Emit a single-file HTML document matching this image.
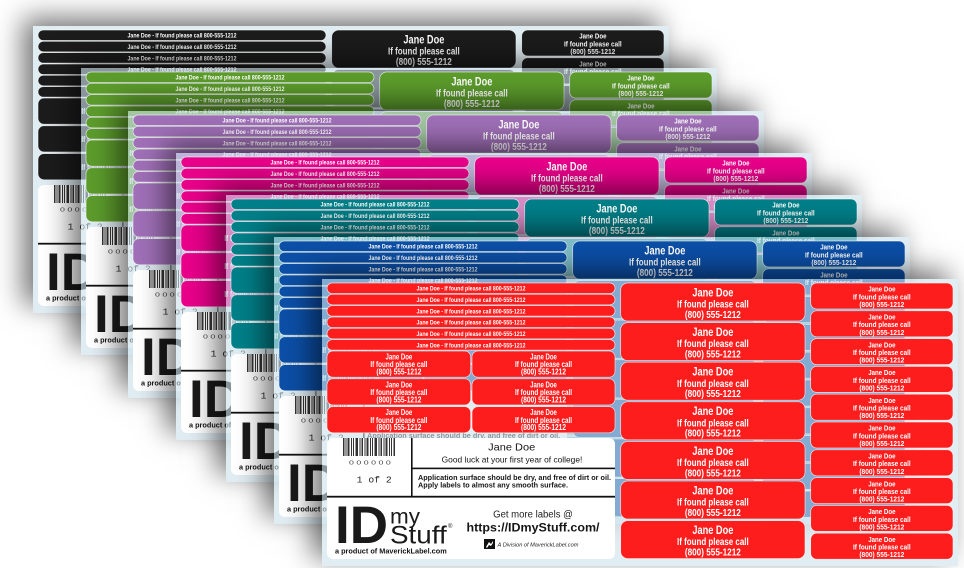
<!DOCTYPE html>
<html><head><meta charset="utf-8">
<style>
html,body{margin:0;padding:0;background:#fff}
body{width:964px;height:568px;overflow:hidden;position:relative}
.sh{position:absolute;width:636px;height:287px;background:rgba(205,226,235,.62);box-shadow:-10px -8px 26px rgba(0,0,0,.55)}
.sh svg{display:block;overflow:visible}
.l{stroke:rgba(255,255,255,.75);stroke-width:.7}
.s0 .l{fill:#1c1c1c}.s1 .l{fill:#5c9c2c}.s2 .l{fill:#a070b8}.s3 .l{fill:#e9008a}.s4 .l{fill:#008089}.s5 .l{fill:#0c4fa7}.s6 .l{fill:#fd1d1d}
text{font-family:"Liberation Sans Narrow","Liberation Sans",sans-serif;font-weight:bold;fill:#fff;text-anchor:middle}
.a{font-size:6.5px}.m{font-size:8px}.L1{font-size:11.5px}.L2{font-size:10px}.k{font-size:7.5px}
.p{fill:#151515;font-family:"Liberation Sans",sans-serif}
.st{text-anchor:start}
.n{font-weight:normal}
.dg{font-size:5.5px;font-weight:normal;fill:#444}
.of{font-family:"Liberation Mono",monospace;font-size:9.5px;font-weight:normal;fill:#222}
.id{font-size:53px;fill:#1a1a1a}
.pr{font-size:7.5px}
</style></head><body>

<!-- sheet 0 black -->
<div class="sh s0" style="left:33px;top:26px"><svg width="636" height="287">
<rect class="l" x="5" y="4" width="288" height="10.5" rx="5.2"/><rect class="l" x="5" y="15.33" width="288" height="10.5" rx="5.2"/><rect class="l" x="5" y="26.66" width="288" height="10.5" rx="5.2"/><rect class="l" x="5" y="38" width="288" height="10.5" rx="5.2"/><rect class="l" x="5" y="49.33" width="288" height="10.5" rx="5.2"/><rect class="l" x="5" y="60.66" width="288" height="10.5" rx="5.2"/>
<rect class="l" x="5" y="72" width="143.7" height="26.2" rx="6"/><rect class="l" x="150" y="72" width="143" height="26.2" rx="6"/><rect class="l" x="5" y="99.8" width="143.7" height="26.2" rx="6"/><rect class="l" x="150" y="99.8" width="143" height="26.2" rx="6"/><rect class="l" x="5" y="127.6" width="143.7" height="26.2" rx="6"/><rect class="l" x="150" y="127.6" width="143" height="26.2" rx="6"/>
<rect class="l" x="298.7" y="4" width="184.3" height="38" rx="7"/><rect class="l" x="298.7" y="43.6" width="184.3" height="38" rx="7"/><rect class="l" x="298.7" y="83.2" width="184.3" height="38" rx="7"/><rect class="l" x="298.7" y="122.8" width="184.3" height="38" rx="7"/><rect class="l" x="298.7" y="162.4" width="184.3" height="38" rx="7"/><rect class="l" x="298.7" y="202" width="184.3" height="38" rx="7"/><rect class="l" x="298.7" y="241.6" width="184.3" height="38" rx="7"/>
<rect class="l" x="488.7" y="4" width="142.3" height="26" rx="6"/><rect class="l" x="488.7" y="31.8" width="142.3" height="26" rx="6"/><rect class="l" x="488.7" y="59.6" width="142.3" height="26" rx="6"/><rect class="l" x="488.7" y="87.4" width="142.3" height="26" rx="6"/><rect class="l" x="488.7" y="115.2" width="142.3" height="26" rx="6"/><rect class="l" x="488.7" y="143" width="142.3" height="26" rx="6"/><rect class="l" x="488.7" y="170.8" width="142.3" height="26" rx="6"/><rect class="l" x="488.7" y="198.6" width="142.3" height="26" rx="6"/><rect class="l" x="488.7" y="226.4" width="142.3" height="26" rx="6"/><rect class="l" x="488.7" y="254.2" width="142.3" height="26" rx="6"/>
<text class="a" x="149" y="11.6" textLength="109" lengthAdjust="spacingAndGlyphs">Jane Doe - If found please call 800-555-1212</text><text class="a" x="149" y="22.93" textLength="109" lengthAdjust="spacingAndGlyphs">Jane Doe - If found please call 800-555-1212</text><text class="a" x="149" y="34.26" textLength="109" lengthAdjust="spacingAndGlyphs">Jane Doe - If found please call 800-555-1212</text><text class="a" x="149" y="45.6" textLength="109" lengthAdjust="spacingAndGlyphs">Jane Doe - If found please call 800-555-1212</text>
<text class="m" x="76.9" y="88.2" textLength="57" lengthAdjust="spacingAndGlyphs">If found please call</text><text class="m" x="76.9" y="116" textLength="57" lengthAdjust="spacingAndGlyphs">If found please call</text><text class="m" x="76.9" y="143.8" textLength="57" lengthAdjust="spacingAndGlyphs">If found please call</text>
<text class="L1" x="390.85" y="17.4" textLength="41" lengthAdjust="spacingAndGlyphs">Jane Doe</text><text class="L2" x="390.85" y="28.6" textLength="71.7" lengthAdjust="spacingAndGlyphs">If found please call</text><text class="L2" x="390.85" y="38.9" textLength="56" lengthAdjust="spacingAndGlyphs">(800) 555-1212</text>
<text class="L1" x="390.85" y="57" textLength="41" lengthAdjust="spacingAndGlyphs">Jane Doe</text><text class="L2" x="390.85" y="68.2" textLength="71.7" lengthAdjust="spacingAndGlyphs">If found please call</text><text class="L2" x="390.85" y="78.5" textLength="56" lengthAdjust="spacingAndGlyphs">(800) 555-1212</text>
<text class="k" x="559.85" y="12.7" textLength="27.3" lengthAdjust="spacingAndGlyphs">Jane Doe</text><text class="k" x="559.85" y="20.4" textLength="57.7" lengthAdjust="spacingAndGlyphs">If found please call</text><text class="k" x="559.85" y="28" textLength="45" lengthAdjust="spacingAndGlyphs">(800) 555-1212</text>
<text class="k" x="559.85" y="40.5" textLength="27.3" lengthAdjust="spacingAndGlyphs">Jane Doe</text><text class="k" x="559.85" y="48.2" textLength="57.7" lengthAdjust="spacingAndGlyphs">If found please call</text><text class="k" x="559.85" y="55.8" textLength="45" lengthAdjust="spacingAndGlyphs">(800) 555-1212</text>
<rect x="5" y="159" width="288" height="121" rx="6" fill="#fff"/>
<line x1="21" y1="168" x2="73" y2="168" stroke="#333" stroke-width="18" stroke-dasharray="1.5 1 1 1 2 1.5 1 1 1 1.5 2.5 1.5 1 1 1.5 1.5 1 1 2 1.5 1 1 1 1.5 2.5 1.5 1 1 1.5 1.5 1 1 2 1.5 1 1 1 1.5 1.5"/>
<text class="dg" x="47.9" y="185.7" textLength="41.7" lengthAdjust="spacingAndGlyphs">0 0 0 0 0 0</text>
<text class="of" x="52.2" y="203.7" textLength="35" lengthAdjust="spacingAndGlyphs">1 of 2</text>
<rect x="89" y="159" width="1.6" height="58.6" fill="#111"/><rect x="5" y="216.8" width="288" height="1.8" fill="#111"/>
<text class="p id st" x="13" y="264" textLength="53" lengthAdjust="spacingAndGlyphs">ID</text>
<text class="p pr st" x="13" y="274.3" textLength="111.7" lengthAdjust="spacingAndGlyphs">a product of MaverickLabel.com</text>
</svg></div>

<!-- sheet 1 green -->
<div class="sh s1" style="left:81px;top:68px"><svg width="636" height="287">
<rect class="l" x="5" y="4" width="288" height="10.5" rx="5.2"/><rect class="l" x="5" y="15.33" width="288" height="10.5" rx="5.2"/><rect class="l" x="5" y="26.66" width="288" height="10.5" rx="5.2"/><rect class="l" x="5" y="38" width="288" height="10.5" rx="5.2"/><rect class="l" x="5" y="49.33" width="288" height="10.5" rx="5.2"/><rect class="l" x="5" y="60.66" width="288" height="10.5" rx="5.2"/>
<rect class="l" x="5" y="72" width="143.7" height="26.2" rx="6"/><rect class="l" x="150" y="72" width="143" height="26.2" rx="6"/><rect class="l" x="5" y="99.8" width="143.7" height="26.2" rx="6"/><rect class="l" x="150" y="99.8" width="143" height="26.2" rx="6"/><rect class="l" x="5" y="127.6" width="143.7" height="26.2" rx="6"/><rect class="l" x="150" y="127.6" width="143" height="26.2" rx="6"/>
<rect class="l" x="298.7" y="4" width="184.3" height="38" rx="7"/><rect class="l" x="298.7" y="43.6" width="184.3" height="38" rx="7"/><rect class="l" x="298.7" y="83.2" width="184.3" height="38" rx="7"/><rect class="l" x="298.7" y="122.8" width="184.3" height="38" rx="7"/><rect class="l" x="298.7" y="162.4" width="184.3" height="38" rx="7"/><rect class="l" x="298.7" y="202" width="184.3" height="38" rx="7"/><rect class="l" x="298.7" y="241.6" width="184.3" height="38" rx="7"/>
<rect class="l" x="488.7" y="4" width="142.3" height="26" rx="6"/><rect class="l" x="488.7" y="31.8" width="142.3" height="26" rx="6"/><rect class="l" x="488.7" y="59.6" width="142.3" height="26" rx="6"/><rect class="l" x="488.7" y="87.4" width="142.3" height="26" rx="6"/><rect class="l" x="488.7" y="115.2" width="142.3" height="26" rx="6"/><rect class="l" x="488.7" y="143" width="142.3" height="26" rx="6"/><rect class="l" x="488.7" y="170.8" width="142.3" height="26" rx="6"/><rect class="l" x="488.7" y="198.6" width="142.3" height="26" rx="6"/><rect class="l" x="488.7" y="226.4" width="142.3" height="26" rx="6"/><rect class="l" x="488.7" y="254.2" width="142.3" height="26" rx="6"/>
<text class="a" x="149" y="11.6" textLength="109" lengthAdjust="spacingAndGlyphs">Jane Doe - If found please call 800-555-1212</text><text class="a" x="149" y="22.93" textLength="109" lengthAdjust="spacingAndGlyphs">Jane Doe - If found please call 800-555-1212</text><text class="a" x="149" y="34.26" textLength="109" lengthAdjust="spacingAndGlyphs">Jane Doe - If found please call 800-555-1212</text><text class="a" x="149" y="45.6" textLength="109" lengthAdjust="spacingAndGlyphs">Jane Doe - If found please call 800-555-1212</text>
<text class="m" x="76.9" y="88.2" textLength="57" lengthAdjust="spacingAndGlyphs">If found please call</text><text class="m" x="76.9" y="116" textLength="57" lengthAdjust="spacingAndGlyphs">If found please call</text><text class="m" x="76.9" y="143.8" textLength="57" lengthAdjust="spacingAndGlyphs">If found please call</text>
<text class="L1" x="390.85" y="17.4" textLength="41" lengthAdjust="spacingAndGlyphs">Jane Doe</text><text class="L2" x="390.85" y="28.6" textLength="71.7" lengthAdjust="spacingAndGlyphs">If found please call</text><text class="L2" x="390.85" y="38.9" textLength="56" lengthAdjust="spacingAndGlyphs">(800) 555-1212</text>
<text class="L1" x="390.85" y="57" textLength="41" lengthAdjust="spacingAndGlyphs">Jane Doe</text><text class="L2" x="390.85" y="68.2" textLength="71.7" lengthAdjust="spacingAndGlyphs">If found please call</text><text class="L2" x="390.85" y="78.5" textLength="56" lengthAdjust="spacingAndGlyphs">(800) 555-1212</text>
<text class="k" x="559.85" y="12.7" textLength="27.3" lengthAdjust="spacingAndGlyphs">Jane Doe</text><text class="k" x="559.85" y="20.4" textLength="57.7" lengthAdjust="spacingAndGlyphs">If found please call</text><text class="k" x="559.85" y="28" textLength="45" lengthAdjust="spacingAndGlyphs">(800) 555-1212</text>
<text class="k" x="559.85" y="40.5" textLength="27.3" lengthAdjust="spacingAndGlyphs">Jane Doe</text><text class="k" x="559.85" y="48.2" textLength="57.7" lengthAdjust="spacingAndGlyphs">If found please call</text><text class="k" x="559.85" y="55.8" textLength="45" lengthAdjust="spacingAndGlyphs">(800) 555-1212</text>
<rect x="5" y="159" width="288" height="121" rx="6" fill="#fff"/>
<line x1="21" y1="168" x2="73" y2="168" stroke="#333" stroke-width="18" stroke-dasharray="1.5 1 1 1 2 1.5 1 1 1 1.5 2.5 1.5 1 1 1.5 1.5 1 1 2 1.5 1 1 1 1.5 2.5 1.5 1 1 1.5 1.5 1 1 2 1.5 1 1 1 1.5 1.5"/>
<text class="dg" x="47.9" y="185.7" textLength="41.7" lengthAdjust="spacingAndGlyphs">0 0 0 0 0 0</text>
<text class="of" x="52.2" y="203.7" textLength="35" lengthAdjust="spacingAndGlyphs">1 of 2</text>
<rect x="89" y="159" width="1.6" height="58.6" fill="#111"/><rect x="5" y="216.8" width="288" height="1.8" fill="#111"/>
<text class="p id st" x="13" y="264" textLength="53" lengthAdjust="spacingAndGlyphs">ID</text>
<text class="p pr st" x="13" y="274.3" textLength="111.7" lengthAdjust="spacingAndGlyphs">a product of MaverickLabel.com</text>
</svg></div>

<!-- sheet 2 purple -->
<div class="sh s2" style="left:127.5px;top:111px"><svg width="636" height="287">
<rect class="l" x="5" y="4" width="288" height="10.5" rx="5.2"/><rect class="l" x="5" y="15.33" width="288" height="10.5" rx="5.2"/><rect class="l" x="5" y="26.66" width="288" height="10.5" rx="5.2"/><rect class="l" x="5" y="38" width="288" height="10.5" rx="5.2"/><rect class="l" x="5" y="49.33" width="288" height="10.5" rx="5.2"/><rect class="l" x="5" y="60.66" width="288" height="10.5" rx="5.2"/>
<rect class="l" x="5" y="72" width="143.7" height="26.2" rx="6"/><rect class="l" x="150" y="72" width="143" height="26.2" rx="6"/><rect class="l" x="5" y="99.8" width="143.7" height="26.2" rx="6"/><rect class="l" x="150" y="99.8" width="143" height="26.2" rx="6"/><rect class="l" x="5" y="127.6" width="143.7" height="26.2" rx="6"/><rect class="l" x="150" y="127.6" width="143" height="26.2" rx="6"/>
<rect class="l" x="298.7" y="4" width="184.3" height="38" rx="7"/><rect class="l" x="298.7" y="43.6" width="184.3" height="38" rx="7"/><rect class="l" x="298.7" y="83.2" width="184.3" height="38" rx="7"/><rect class="l" x="298.7" y="122.8" width="184.3" height="38" rx="7"/><rect class="l" x="298.7" y="162.4" width="184.3" height="38" rx="7"/><rect class="l" x="298.7" y="202" width="184.3" height="38" rx="7"/><rect class="l" x="298.7" y="241.6" width="184.3" height="38" rx="7"/>
<rect class="l" x="488.7" y="4" width="142.3" height="26" rx="6"/><rect class="l" x="488.7" y="31.8" width="142.3" height="26" rx="6"/><rect class="l" x="488.7" y="59.6" width="142.3" height="26" rx="6"/><rect class="l" x="488.7" y="87.4" width="142.3" height="26" rx="6"/><rect class="l" x="488.7" y="115.2" width="142.3" height="26" rx="6"/><rect class="l" x="488.7" y="143" width="142.3" height="26" rx="6"/><rect class="l" x="488.7" y="170.8" width="142.3" height="26" rx="6"/><rect class="l" x="488.7" y="198.6" width="142.3" height="26" rx="6"/><rect class="l" x="488.7" y="226.4" width="142.3" height="26" rx="6"/><rect class="l" x="488.7" y="254.2" width="142.3" height="26" rx="6"/>
<text class="a" x="149" y="11.6" textLength="109" lengthAdjust="spacingAndGlyphs">Jane Doe - If found please call 800-555-1212</text><text class="a" x="149" y="22.93" textLength="109" lengthAdjust="spacingAndGlyphs">Jane Doe - If found please call 800-555-1212</text><text class="a" x="149" y="34.26" textLength="109" lengthAdjust="spacingAndGlyphs">Jane Doe - If found please call 800-555-1212</text><text class="a" x="149" y="45.6" textLength="109" lengthAdjust="spacingAndGlyphs">Jane Doe - If found please call 800-555-1212</text>
<text class="m" x="76.9" y="88.2" textLength="57" lengthAdjust="spacingAndGlyphs">If found please call</text><text class="m" x="76.9" y="116" textLength="57" lengthAdjust="spacingAndGlyphs">If found please call</text><text class="m" x="76.9" y="143.8" textLength="57" lengthAdjust="spacingAndGlyphs">If found please call</text>
<text class="L1" x="390.85" y="17.4" textLength="41" lengthAdjust="spacingAndGlyphs">Jane Doe</text><text class="L2" x="390.85" y="28.6" textLength="71.7" lengthAdjust="spacingAndGlyphs">If found please call</text><text class="L2" x="390.85" y="38.9" textLength="56" lengthAdjust="spacingAndGlyphs">(800) 555-1212</text>
<text class="L1" x="390.85" y="57" textLength="41" lengthAdjust="spacingAndGlyphs">Jane Doe</text><text class="L2" x="390.85" y="68.2" textLength="71.7" lengthAdjust="spacingAndGlyphs">If found please call</text><text class="L2" x="390.85" y="78.5" textLength="56" lengthAdjust="spacingAndGlyphs">(800) 555-1212</text>
<text class="k" x="559.85" y="12.7" textLength="27.3" lengthAdjust="spacingAndGlyphs">Jane Doe</text><text class="k" x="559.85" y="20.4" textLength="57.7" lengthAdjust="spacingAndGlyphs">If found please call</text><text class="k" x="559.85" y="28" textLength="45" lengthAdjust="spacingAndGlyphs">(800) 555-1212</text>
<text class="k" x="559.85" y="40.5" textLength="27.3" lengthAdjust="spacingAndGlyphs">Jane Doe</text><text class="k" x="559.85" y="48.2" textLength="57.7" lengthAdjust="spacingAndGlyphs">If found please call</text><text class="k" x="559.85" y="55.8" textLength="45" lengthAdjust="spacingAndGlyphs">(800) 555-1212</text>
<rect x="5" y="159" width="288" height="121" rx="6" fill="#fff"/>
<line x1="21" y1="168" x2="73" y2="168" stroke="#333" stroke-width="18" stroke-dasharray="1.5 1 1 1 2 1.5 1 1 1 1.5 2.5 1.5 1 1 1.5 1.5 1 1 2 1.5 1 1 1 1.5 2.5 1.5 1 1 1.5 1.5 1 1 2 1.5 1 1 1 1.5 1.5"/>
<text class="dg" x="47.9" y="185.7" textLength="41.7" lengthAdjust="spacingAndGlyphs">0 0 0 0 0 0</text>
<text class="of" x="52.2" y="203.7" textLength="35" lengthAdjust="spacingAndGlyphs">1 of 2</text>
<rect x="89" y="159" width="1.6" height="58.6" fill="#111"/><rect x="5" y="216.8" width="288" height="1.8" fill="#111"/>
<text class="p id st" x="13" y="264" textLength="53" lengthAdjust="spacingAndGlyphs">ID</text>
<text class="p pr st" x="13" y="274.3" textLength="111.7" lengthAdjust="spacingAndGlyphs">a product of MaverickLabel.com</text>
</svg></div>

<!-- sheet 3 pink -->
<div class="sh s3" style="left:176px;top:152.5px"><svg width="636" height="287">
<rect class="l" x="5" y="4" width="288" height="10.5" rx="5.2"/><rect class="l" x="5" y="15.33" width="288" height="10.5" rx="5.2"/><rect class="l" x="5" y="26.66" width="288" height="10.5" rx="5.2"/><rect class="l" x="5" y="38" width="288" height="10.5" rx="5.2"/><rect class="l" x="5" y="49.33" width="288" height="10.5" rx="5.2"/><rect class="l" x="5" y="60.66" width="288" height="10.5" rx="5.2"/>
<rect class="l" x="5" y="72" width="143.7" height="26.2" rx="6"/><rect class="l" x="150" y="72" width="143" height="26.2" rx="6"/><rect class="l" x="5" y="99.8" width="143.7" height="26.2" rx="6"/><rect class="l" x="150" y="99.8" width="143" height="26.2" rx="6"/><rect class="l" x="5" y="127.6" width="143.7" height="26.2" rx="6"/><rect class="l" x="150" y="127.6" width="143" height="26.2" rx="6"/>
<rect class="l" x="298.7" y="4" width="184.3" height="38" rx="7"/><rect class="l" x="298.7" y="43.6" width="184.3" height="38" rx="7"/><rect class="l" x="298.7" y="83.2" width="184.3" height="38" rx="7"/><rect class="l" x="298.7" y="122.8" width="184.3" height="38" rx="7"/><rect class="l" x="298.7" y="162.4" width="184.3" height="38" rx="7"/><rect class="l" x="298.7" y="202" width="184.3" height="38" rx="7"/><rect class="l" x="298.7" y="241.6" width="184.3" height="38" rx="7"/>
<rect class="l" x="488.7" y="4" width="142.3" height="26" rx="6"/><rect class="l" x="488.7" y="31.8" width="142.3" height="26" rx="6"/><rect class="l" x="488.7" y="59.6" width="142.3" height="26" rx="6"/><rect class="l" x="488.7" y="87.4" width="142.3" height="26" rx="6"/><rect class="l" x="488.7" y="115.2" width="142.3" height="26" rx="6"/><rect class="l" x="488.7" y="143" width="142.3" height="26" rx="6"/><rect class="l" x="488.7" y="170.8" width="142.3" height="26" rx="6"/><rect class="l" x="488.7" y="198.6" width="142.3" height="26" rx="6"/><rect class="l" x="488.7" y="226.4" width="142.3" height="26" rx="6"/><rect class="l" x="488.7" y="254.2" width="142.3" height="26" rx="6"/>
<text class="a" x="149" y="11.6" textLength="109" lengthAdjust="spacingAndGlyphs">Jane Doe - If found please call 800-555-1212</text><text class="a" x="149" y="22.93" textLength="109" lengthAdjust="spacingAndGlyphs">Jane Doe - If found please call 800-555-1212</text><text class="a" x="149" y="34.26" textLength="109" lengthAdjust="spacingAndGlyphs">Jane Doe - If found please call 800-555-1212</text><text class="a" x="149" y="45.6" textLength="109" lengthAdjust="spacingAndGlyphs">Jane Doe - If found please call 800-555-1212</text>
<text class="m" x="76.9" y="88.2" textLength="57" lengthAdjust="spacingAndGlyphs">If found please call</text><text class="m" x="76.9" y="116" textLength="57" lengthAdjust="spacingAndGlyphs">If found please call</text><text class="m" x="76.9" y="143.8" textLength="57" lengthAdjust="spacingAndGlyphs">If found please call</text>
<text class="L1" x="390.85" y="17.4" textLength="41" lengthAdjust="spacingAndGlyphs">Jane Doe</text><text class="L2" x="390.85" y="28.6" textLength="71.7" lengthAdjust="spacingAndGlyphs">If found please call</text><text class="L2" x="390.85" y="38.9" textLength="56" lengthAdjust="spacingAndGlyphs">(800) 555-1212</text>
<text class="L1" x="390.85" y="57" textLength="41" lengthAdjust="spacingAndGlyphs">Jane Doe</text><text class="L2" x="390.85" y="68.2" textLength="71.7" lengthAdjust="spacingAndGlyphs">If found please call</text><text class="L2" x="390.85" y="78.5" textLength="56" lengthAdjust="spacingAndGlyphs">(800) 555-1212</text>
<text class="k" x="559.85" y="12.7" textLength="27.3" lengthAdjust="spacingAndGlyphs">Jane Doe</text><text class="k" x="559.85" y="20.4" textLength="57.7" lengthAdjust="spacingAndGlyphs">If found please call</text><text class="k" x="559.85" y="28" textLength="45" lengthAdjust="spacingAndGlyphs">(800) 555-1212</text>
<text class="k" x="559.85" y="40.5" textLength="27.3" lengthAdjust="spacingAndGlyphs">Jane Doe</text><text class="k" x="559.85" y="48.2" textLength="57.7" lengthAdjust="spacingAndGlyphs">If found please call</text><text class="k" x="559.85" y="55.8" textLength="45" lengthAdjust="spacingAndGlyphs">(800) 555-1212</text>
<rect x="5" y="159" width="288" height="121" rx="6" fill="#fff"/>
<line x1="21" y1="168" x2="73" y2="168" stroke="#333" stroke-width="18" stroke-dasharray="1.5 1 1 1 2 1.5 1 1 1 1.5 2.5 1.5 1 1 1.5 1.5 1 1 2 1.5 1 1 1 1.5 2.5 1.5 1 1 1.5 1.5 1 1 2 1.5 1 1 1 1.5 1.5"/>
<text class="dg" x="47.9" y="185.7" textLength="41.7" lengthAdjust="spacingAndGlyphs">0 0 0 0 0 0</text>
<text class="of" x="52.2" y="203.7" textLength="35" lengthAdjust="spacingAndGlyphs">1 of 2</text>
<rect x="89" y="159" width="1.6" height="58.6" fill="#111"/><rect x="5" y="216.8" width="288" height="1.8" fill="#111"/>
<text class="p id st" x="13" y="264" textLength="53" lengthAdjust="spacingAndGlyphs">ID</text>
<text class="p pr st" x="13" y="274.3" textLength="111.7" lengthAdjust="spacingAndGlyphs">a product of MaverickLabel.com</text>
</svg></div>

<!-- sheet 4 teal -->
<div class="sh s4" style="left:225.5px;top:194.7px"><svg width="636" height="287">
<rect class="l" x="5" y="4" width="288" height="10.5" rx="5.2"/><rect class="l" x="5" y="15.33" width="288" height="10.5" rx="5.2"/><rect class="l" x="5" y="26.66" width="288" height="10.5" rx="5.2"/><rect class="l" x="5" y="38" width="288" height="10.5" rx="5.2"/><rect class="l" x="5" y="49.33" width="288" height="10.5" rx="5.2"/><rect class="l" x="5" y="60.66" width="288" height="10.5" rx="5.2"/>
<rect class="l" x="5" y="72" width="143.7" height="26.2" rx="6"/><rect class="l" x="150" y="72" width="143" height="26.2" rx="6"/><rect class="l" x="5" y="99.8" width="143.7" height="26.2" rx="6"/><rect class="l" x="150" y="99.8" width="143" height="26.2" rx="6"/><rect class="l" x="5" y="127.6" width="143.7" height="26.2" rx="6"/><rect class="l" x="150" y="127.6" width="143" height="26.2" rx="6"/>
<rect class="l" x="298.7" y="4" width="184.3" height="38" rx="7"/><rect class="l" x="298.7" y="43.6" width="184.3" height="38" rx="7"/><rect class="l" x="298.7" y="83.2" width="184.3" height="38" rx="7"/><rect class="l" x="298.7" y="122.8" width="184.3" height="38" rx="7"/><rect class="l" x="298.7" y="162.4" width="184.3" height="38" rx="7"/><rect class="l" x="298.7" y="202" width="184.3" height="38" rx="7"/><rect class="l" x="298.7" y="241.6" width="184.3" height="38" rx="7"/>
<rect class="l" x="488.7" y="4" width="142.3" height="26" rx="6"/><rect class="l" x="488.7" y="31.8" width="142.3" height="26" rx="6"/><rect class="l" x="488.7" y="59.6" width="142.3" height="26" rx="6"/><rect class="l" x="488.7" y="87.4" width="142.3" height="26" rx="6"/><rect class="l" x="488.7" y="115.2" width="142.3" height="26" rx="6"/><rect class="l" x="488.7" y="143" width="142.3" height="26" rx="6"/><rect class="l" x="488.7" y="170.8" width="142.3" height="26" rx="6"/><rect class="l" x="488.7" y="198.6" width="142.3" height="26" rx="6"/><rect class="l" x="488.7" y="226.4" width="142.3" height="26" rx="6"/><rect class="l" x="488.7" y="254.2" width="142.3" height="26" rx="6"/>
<text class="a" x="149" y="11.6" textLength="109" lengthAdjust="spacingAndGlyphs">Jane Doe - If found please call 800-555-1212</text><text class="a" x="149" y="22.93" textLength="109" lengthAdjust="spacingAndGlyphs">Jane Doe - If found please call 800-555-1212</text><text class="a" x="149" y="34.26" textLength="109" lengthAdjust="spacingAndGlyphs">Jane Doe - If found please call 800-555-1212</text><text class="a" x="149" y="45.6" textLength="109" lengthAdjust="spacingAndGlyphs">Jane Doe - If found please call 800-555-1212</text>
<text class="m" x="76.9" y="88.2" textLength="57" lengthAdjust="spacingAndGlyphs">If found please call</text><text class="m" x="76.9" y="116" textLength="57" lengthAdjust="spacingAndGlyphs">If found please call</text><text class="m" x="76.9" y="143.8" textLength="57" lengthAdjust="spacingAndGlyphs">If found please call</text>
<text class="L1" x="390.85" y="17.4" textLength="41" lengthAdjust="spacingAndGlyphs">Jane Doe</text><text class="L2" x="390.85" y="28.6" textLength="71.7" lengthAdjust="spacingAndGlyphs">If found please call</text><text class="L2" x="390.85" y="38.9" textLength="56" lengthAdjust="spacingAndGlyphs">(800) 555-1212</text>
<text class="L1" x="390.85" y="57" textLength="41" lengthAdjust="spacingAndGlyphs">Jane Doe</text><text class="L2" x="390.85" y="68.2" textLength="71.7" lengthAdjust="spacingAndGlyphs">If found please call</text><text class="L2" x="390.85" y="78.5" textLength="56" lengthAdjust="spacingAndGlyphs">(800) 555-1212</text>
<text class="k" x="559.85" y="12.7" textLength="27.3" lengthAdjust="spacingAndGlyphs">Jane Doe</text><text class="k" x="559.85" y="20.4" textLength="57.7" lengthAdjust="spacingAndGlyphs">If found please call</text><text class="k" x="559.85" y="28" textLength="45" lengthAdjust="spacingAndGlyphs">(800) 555-1212</text>
<text class="k" x="559.85" y="40.5" textLength="27.3" lengthAdjust="spacingAndGlyphs">Jane Doe</text><text class="k" x="559.85" y="48.2" textLength="57.7" lengthAdjust="spacingAndGlyphs">If found please call</text><text class="k" x="559.85" y="55.8" textLength="45" lengthAdjust="spacingAndGlyphs">(800) 555-1212</text>
<rect x="5" y="159" width="288" height="121" rx="6" fill="#fff"/>
<line x1="21" y1="168" x2="73" y2="168" stroke="#333" stroke-width="18" stroke-dasharray="1.5 1 1 1 2 1.5 1 1 1 1.5 2.5 1.5 1 1 1.5 1.5 1 1 2 1.5 1 1 1 1.5 2.5 1.5 1 1 1.5 1.5 1 1 2 1.5 1 1 1 1.5 1.5"/>
<text class="dg" x="47.9" y="185.7" textLength="41.7" lengthAdjust="spacingAndGlyphs">0 0 0 0 0 0</text>
<text class="of" x="52.2" y="203.7" textLength="35" lengthAdjust="spacingAndGlyphs">1 of 2</text>
<rect x="89" y="159" width="1.6" height="58.6" fill="#111"/><rect x="5" y="216.8" width="288" height="1.8" fill="#111"/>
<text class="p id st" x="13" y="264" textLength="53" lengthAdjust="spacingAndGlyphs">ID</text>
<text class="p pr st" x="13" y="274.3" textLength="111.7" lengthAdjust="spacingAndGlyphs">a product of MaverickLabel.com</text>
</svg></div>

<!-- sheet 5 blue -->
<div class="sh s5" style="left:273.8px;top:236.8px"><svg width="636" height="287">
<rect class="l" x="5" y="4" width="288" height="10.5" rx="5.2"/><rect class="l" x="5" y="15.33" width="288" height="10.5" rx="5.2"/><rect class="l" x="5" y="26.66" width="288" height="10.5" rx="5.2"/><rect class="l" x="5" y="38" width="288" height="10.5" rx="5.2"/><rect class="l" x="5" y="49.33" width="288" height="10.5" rx="5.2"/><rect class="l" x="5" y="60.66" width="288" height="10.5" rx="5.2"/>
<rect class="l" x="5" y="72" width="143.7" height="26.2" rx="6"/><rect class="l" x="150" y="72" width="143" height="26.2" rx="6"/><rect class="l" x="5" y="99.8" width="143.7" height="26.2" rx="6"/><rect class="l" x="150" y="99.8" width="143" height="26.2" rx="6"/><rect class="l" x="5" y="127.6" width="143.7" height="26.2" rx="6"/><rect class="l" x="150" y="127.6" width="143" height="26.2" rx="6"/>
<rect class="l" x="298.7" y="4" width="184.3" height="38" rx="7"/><rect class="l" x="298.7" y="43.6" width="184.3" height="38" rx="7"/><rect class="l" x="298.7" y="83.2" width="184.3" height="38" rx="7"/><rect class="l" x="298.7" y="122.8" width="184.3" height="38" rx="7"/><rect class="l" x="298.7" y="162.4" width="184.3" height="38" rx="7"/><rect class="l" x="298.7" y="202" width="184.3" height="38" rx="7"/><rect class="l" x="298.7" y="241.6" width="184.3" height="38" rx="7"/>
<rect class="l" x="488.7" y="4" width="142.3" height="26" rx="6"/><rect class="l" x="488.7" y="31.8" width="142.3" height="26" rx="6"/><rect class="l" x="488.7" y="59.6" width="142.3" height="26" rx="6"/><rect class="l" x="488.7" y="87.4" width="142.3" height="26" rx="6"/><rect class="l" x="488.7" y="115.2" width="142.3" height="26" rx="6"/><rect class="l" x="488.7" y="143" width="142.3" height="26" rx="6"/><rect class="l" x="488.7" y="170.8" width="142.3" height="26" rx="6"/><rect class="l" x="488.7" y="198.6" width="142.3" height="26" rx="6"/><rect class="l" x="488.7" y="226.4" width="142.3" height="26" rx="6"/><rect class="l" x="488.7" y="254.2" width="142.3" height="26" rx="6"/>
<text class="a" x="149" y="11.6" textLength="109" lengthAdjust="spacingAndGlyphs">Jane Doe - If found please call 800-555-1212</text><text class="a" x="149" y="22.93" textLength="109" lengthAdjust="spacingAndGlyphs">Jane Doe - If found please call 800-555-1212</text><text class="a" x="149" y="34.26" textLength="109" lengthAdjust="spacingAndGlyphs">Jane Doe - If found please call 800-555-1212</text><text class="a" x="149" y="45.6" textLength="109" lengthAdjust="spacingAndGlyphs">Jane Doe - If found please call 800-555-1212</text>
<text class="m" x="76.9" y="88.2" textLength="57" lengthAdjust="spacingAndGlyphs">If found please call</text><text class="m" x="76.9" y="116" textLength="57" lengthAdjust="spacingAndGlyphs">If found please call</text><text class="m" x="76.9" y="143.8" textLength="57" lengthAdjust="spacingAndGlyphs">If found please call</text>
<text class="L1" x="390.85" y="17.4" textLength="41" lengthAdjust="spacingAndGlyphs">Jane Doe</text><text class="L2" x="390.85" y="28.6" textLength="71.7" lengthAdjust="spacingAndGlyphs">If found please call</text><text class="L2" x="390.85" y="38.9" textLength="56" lengthAdjust="spacingAndGlyphs">(800) 555-1212</text>
<text class="L1" x="390.85" y="57" textLength="41" lengthAdjust="spacingAndGlyphs">Jane Doe</text><text class="L2" x="390.85" y="68.2" textLength="71.7" lengthAdjust="spacingAndGlyphs">If found please call</text><text class="L2" x="390.85" y="78.5" textLength="56" lengthAdjust="spacingAndGlyphs">(800) 555-1212</text>
<text class="k" x="559.85" y="12.7" textLength="27.3" lengthAdjust="spacingAndGlyphs">Jane Doe</text><text class="k" x="559.85" y="20.4" textLength="57.7" lengthAdjust="spacingAndGlyphs">If found please call</text><text class="k" x="559.85" y="28" textLength="45" lengthAdjust="spacingAndGlyphs">(800) 555-1212</text>
<text class="k" x="559.85" y="40.5" textLength="27.3" lengthAdjust="spacingAndGlyphs">Jane Doe</text><text class="k" x="559.85" y="48.2" textLength="57.7" lengthAdjust="spacingAndGlyphs">If found please call</text><text class="k" x="559.85" y="55.8" textLength="45" lengthAdjust="spacingAndGlyphs">(800) 555-1212</text>
<rect x="5" y="159" width="288" height="121" rx="6" fill="#fff"/>
<line x1="21" y1="168" x2="73" y2="168" stroke="#333" stroke-width="18" stroke-dasharray="1.5 1 1 1 2 1.5 1 1 1 1.5 2.5 1.5 1 1 1.5 1.5 1 1 2 1.5 1 1 1 1.5 2.5 1.5 1 1 1.5 1.5 1 1 2 1.5 1 1 1 1.5 1.5"/>
<text class="dg" x="47.9" y="185.7" textLength="41.7" lengthAdjust="spacingAndGlyphs">0 0 0 0 0 0</text>
<text class="of" x="52.2" y="203.7" textLength="35" lengthAdjust="spacingAndGlyphs">1 of 2</text>
<rect x="89" y="159" width="1.6" height="58.6" fill="#111"/><rect x="5" y="216.8" width="288" height="1.8" fill="#111"/>
<text class="p n" x="189.7" y="201" style="font-size:7px;font-weight:bold" textLength="193" lengthAdjust="spacingAndGlyphs">Application surface should be dry, and free of dirt or oil.</text>
<text class="p id st" x="13" y="264" textLength="53" lengthAdjust="spacingAndGlyphs">ID</text>
<text class="p pr st" x="13" y="274.3" textLength="111.7" lengthAdjust="spacingAndGlyphs">a product of MaverickLabel.com</text>
</svg></div>

<!-- sheet 6 red (front) -->
<div class="sh s6" style="left:322px;top:279px"><svg width="636" height="287">
<rect class="l" x="5" y="4" width="288" height="10.5" rx="5.2"/><rect class="l" x="5" y="15.33" width="288" height="10.5" rx="5.2"/><rect class="l" x="5" y="26.66" width="288" height="10.5" rx="5.2"/><rect class="l" x="5" y="38" width="288" height="10.5" rx="5.2"/><rect class="l" x="5" y="49.33" width="288" height="10.5" rx="5.2"/><rect class="l" x="5" y="60.66" width="288" height="10.5" rx="5.2"/>
<rect class="l" x="5" y="72" width="143.7" height="26.2" rx="6"/><rect class="l" x="150" y="72" width="143" height="26.2" rx="6"/><rect class="l" x="5" y="99.8" width="143.7" height="26.2" rx="6"/><rect class="l" x="150" y="99.8" width="143" height="26.2" rx="6"/><rect class="l" x="5" y="127.6" width="143.7" height="26.2" rx="6"/><rect class="l" x="150" y="127.6" width="143" height="26.2" rx="6"/>
<rect class="l" x="298.7" y="4" width="184.3" height="38" rx="7"/><rect class="l" x="298.7" y="43.6" width="184.3" height="38" rx="7"/><rect class="l" x="298.7" y="83.2" width="184.3" height="38" rx="7"/><rect class="l" x="298.7" y="122.8" width="184.3" height="38" rx="7"/><rect class="l" x="298.7" y="162.4" width="184.3" height="38" rx="7"/><rect class="l" x="298.7" y="202" width="184.3" height="38" rx="7"/><rect class="l" x="298.7" y="241.6" width="184.3" height="38" rx="7"/>
<rect class="l" x="488.7" y="4" width="142.3" height="26" rx="6"/><rect class="l" x="488.7" y="31.8" width="142.3" height="26" rx="6"/><rect class="l" x="488.7" y="59.6" width="142.3" height="26" rx="6"/><rect class="l" x="488.7" y="87.4" width="142.3" height="26" rx="6"/><rect class="l" x="488.7" y="115.2" width="142.3" height="26" rx="6"/><rect class="l" x="488.7" y="143" width="142.3" height="26" rx="6"/><rect class="l" x="488.7" y="170.8" width="142.3" height="26" rx="6"/><rect class="l" x="488.7" y="198.6" width="142.3" height="26" rx="6"/><rect class="l" x="488.7" y="226.4" width="142.3" height="26" rx="6"/><rect class="l" x="488.7" y="254.2" width="142.3" height="26" rx="6"/>
<text class="a" x="149" y="11.6" textLength="109" lengthAdjust="spacingAndGlyphs">Jane Doe - If found please call 800-555-1212</text><text class="a" x="149" y="22.93" textLength="109" lengthAdjust="spacingAndGlyphs">Jane Doe - If found please call 800-555-1212</text><text class="a" x="149" y="34.26" textLength="109" lengthAdjust="spacingAndGlyphs">Jane Doe - If found please call 800-555-1212</text><text class="a" x="149" y="45.6" textLength="109" lengthAdjust="spacingAndGlyphs">Jane Doe - If found please call 800-555-1212</text><text class="a" x="149" y="56.93" textLength="109" lengthAdjust="spacingAndGlyphs">Jane Doe - If found please call 800-555-1212</text><text class="a" x="149" y="68.26" textLength="109" lengthAdjust="spacingAndGlyphs">Jane Doe - If found please call 800-555-1212</text>
<text class="m" x="76.9" y="80.6" textLength="26.7" lengthAdjust="spacingAndGlyphs">Jane Doe</text><text class="m" x="76.9" y="88.2" textLength="57" lengthAdjust="spacingAndGlyphs">If found please call</text><text class="m" x="76.9" y="95.6" textLength="45" lengthAdjust="spacingAndGlyphs">(800) 555-1212</text>
<text class="m" x="221.5" y="80.6" textLength="26.7" lengthAdjust="spacingAndGlyphs">Jane Doe</text><text class="m" x="221.5" y="88.2" textLength="57" lengthAdjust="spacingAndGlyphs">If found please call</text><text class="m" x="221.5" y="95.6" textLength="45" lengthAdjust="spacingAndGlyphs">(800) 555-1212</text>
<text class="m" x="76.9" y="108.4" textLength="26.7" lengthAdjust="spacingAndGlyphs">Jane Doe</text><text class="m" x="76.9" y="116" textLength="57" lengthAdjust="spacingAndGlyphs">If found please call</text><text class="m" x="76.9" y="123.4" textLength="45" lengthAdjust="spacingAndGlyphs">(800) 555-1212</text>
<text class="m" x="221.5" y="108.4" textLength="26.7" lengthAdjust="spacingAndGlyphs">Jane Doe</text><text class="m" x="221.5" y="116" textLength="57" lengthAdjust="spacingAndGlyphs">If found please call</text><text class="m" x="221.5" y="123.4" textLength="45" lengthAdjust="spacingAndGlyphs">(800) 555-1212</text>
<text class="m" x="76.9" y="136.2" textLength="26.7" lengthAdjust="spacingAndGlyphs">Jane Doe</text><text class="m" x="76.9" y="143.8" textLength="57" lengthAdjust="spacingAndGlyphs">If found please call</text><text class="m" x="76.9" y="151.2" textLength="45" lengthAdjust="spacingAndGlyphs">(800) 555-1212</text>
<text class="m" x="221.5" y="136.2" textLength="26.7" lengthAdjust="spacingAndGlyphs">Jane Doe</text><text class="m" x="221.5" y="143.8" textLength="57" lengthAdjust="spacingAndGlyphs">If found please call</text><text class="m" x="221.5" y="151.2" textLength="45" lengthAdjust="spacingAndGlyphs">(800) 555-1212</text>
<text class="L1" x="390.85" y="17.4" textLength="41" lengthAdjust="spacingAndGlyphs">Jane Doe</text><text class="L2" x="390.85" y="28.6" textLength="71.7" lengthAdjust="spacingAndGlyphs">If found please call</text><text class="L2" x="390.85" y="38.9" textLength="56" lengthAdjust="spacingAndGlyphs">(800) 555-1212</text>
<text class="L1" x="390.85" y="57" textLength="41" lengthAdjust="spacingAndGlyphs">Jane Doe</text><text class="L2" x="390.85" y="68.2" textLength="71.7" lengthAdjust="spacingAndGlyphs">If found please call</text><text class="L2" x="390.85" y="78.5" textLength="56" lengthAdjust="spacingAndGlyphs">(800) 555-1212</text>
<text class="L1" x="390.85" y="96.6" textLength="41" lengthAdjust="spacingAndGlyphs">Jane Doe</text><text class="L2" x="390.85" y="107.8" textLength="71.7" lengthAdjust="spacingAndGlyphs">If found please call</text><text class="L2" x="390.85" y="118.1" textLength="56" lengthAdjust="spacingAndGlyphs">(800) 555-1212</text>
<text class="L1" x="390.85" y="136.2" textLength="41" lengthAdjust="spacingAndGlyphs">Jane Doe</text><text class="L2" x="390.85" y="147.4" textLength="71.7" lengthAdjust="spacingAndGlyphs">If found please call</text><text class="L2" x="390.85" y="157.7" textLength="56" lengthAdjust="spacingAndGlyphs">(800) 555-1212</text>
<text class="L1" x="390.85" y="175.8" textLength="41" lengthAdjust="spacingAndGlyphs">Jane Doe</text><text class="L2" x="390.85" y="187" textLength="71.7" lengthAdjust="spacingAndGlyphs">If found please call</text><text class="L2" x="390.85" y="197.3" textLength="56" lengthAdjust="spacingAndGlyphs">(800) 555-1212</text>
<text class="L1" x="390.85" y="215.4" textLength="41" lengthAdjust="spacingAndGlyphs">Jane Doe</text><text class="L2" x="390.85" y="226.6" textLength="71.7" lengthAdjust="spacingAndGlyphs">If found please call</text><text class="L2" x="390.85" y="236.9" textLength="56" lengthAdjust="spacingAndGlyphs">(800) 555-1212</text>
<text class="L1" x="390.85" y="255" textLength="41" lengthAdjust="spacingAndGlyphs">Jane Doe</text><text class="L2" x="390.85" y="266.2" textLength="71.7" lengthAdjust="spacingAndGlyphs">If found please call</text><text class="L2" x="390.85" y="276.5" textLength="56" lengthAdjust="spacingAndGlyphs">(800) 555-1212</text>
<text class="k" x="559.85" y="12.7" textLength="27.3" lengthAdjust="spacingAndGlyphs">Jane Doe</text><text class="k" x="559.85" y="20.4" textLength="57.7" lengthAdjust="spacingAndGlyphs">If found please call</text><text class="k" x="559.85" y="28" textLength="45" lengthAdjust="spacingAndGlyphs">(800) 555-1212</text>
<text class="k" x="559.85" y="40.5" textLength="27.3" lengthAdjust="spacingAndGlyphs">Jane Doe</text><text class="k" x="559.85" y="48.2" textLength="57.7" lengthAdjust="spacingAndGlyphs">If found please call</text><text class="k" x="559.85" y="55.8" textLength="45" lengthAdjust="spacingAndGlyphs">(800) 555-1212</text>
<text class="k" x="559.85" y="68.3" textLength="27.3" lengthAdjust="spacingAndGlyphs">Jane Doe</text><text class="k" x="559.85" y="76" textLength="57.7" lengthAdjust="spacingAndGlyphs">If found please call</text><text class="k" x="559.85" y="83.6" textLength="45" lengthAdjust="spacingAndGlyphs">(800) 555-1212</text>
<text class="k" x="559.85" y="96.1" textLength="27.3" lengthAdjust="spacingAndGlyphs">Jane Doe</text><text class="k" x="559.85" y="103.8" textLength="57.7" lengthAdjust="spacingAndGlyphs">If found please call</text><text class="k" x="559.85" y="111.4" textLength="45" lengthAdjust="spacingAndGlyphs">(800) 555-1212</text>
<text class="k" x="559.85" y="123.9" textLength="27.3" lengthAdjust="spacingAndGlyphs">Jane Doe</text><text class="k" x="559.85" y="131.6" textLength="57.7" lengthAdjust="spacingAndGlyphs">If found please call</text><text class="k" x="559.85" y="139.2" textLength="45" lengthAdjust="spacingAndGlyphs">(800) 555-1212</text>
<text class="k" x="559.85" y="151.7" textLength="27.3" lengthAdjust="spacingAndGlyphs">Jane Doe</text><text class="k" x="559.85" y="159.4" textLength="57.7" lengthAdjust="spacingAndGlyphs">If found please call</text><text class="k" x="559.85" y="167" textLength="45" lengthAdjust="spacingAndGlyphs">(800) 555-1212</text>
<text class="k" x="559.85" y="179.5" textLength="27.3" lengthAdjust="spacingAndGlyphs">Jane Doe</text><text class="k" x="559.85" y="187.2" textLength="57.7" lengthAdjust="spacingAndGlyphs">If found please call</text><text class="k" x="559.85" y="194.8" textLength="45" lengthAdjust="spacingAndGlyphs">(800) 555-1212</text>
<text class="k" x="559.85" y="207.3" textLength="27.3" lengthAdjust="spacingAndGlyphs">Jane Doe</text><text class="k" x="559.85" y="215" textLength="57.7" lengthAdjust="spacingAndGlyphs">If found please call</text><text class="k" x="559.85" y="222.6" textLength="45" lengthAdjust="spacingAndGlyphs">(800) 555-1212</text>
<text class="k" x="559.85" y="235.1" textLength="27.3" lengthAdjust="spacingAndGlyphs">Jane Doe</text><text class="k" x="559.85" y="242.8" textLength="57.7" lengthAdjust="spacingAndGlyphs">If found please call</text><text class="k" x="559.85" y="250.4" textLength="45" lengthAdjust="spacingAndGlyphs">(800) 555-1212</text>
<text class="k" x="559.85" y="262.9" textLength="27.3" lengthAdjust="spacingAndGlyphs">Jane Doe</text><text class="k" x="559.85" y="270.6" textLength="57.7" lengthAdjust="spacingAndGlyphs">If found please call</text><text class="k" x="559.85" y="278.2" textLength="45" lengthAdjust="spacingAndGlyphs">(800) 555-1212</text>
<rect x="5" y="159" width="288" height="121" rx="6" fill="#fff"/>
<line x1="21" y1="168" x2="73" y2="168" stroke="#333" stroke-width="18" stroke-dasharray="1.5 1 1 1 2 1.5 1 1 1 1.5 2.5 1.5 1 1 1.5 1.5 1 1 2 1.5 1 1 1 1.5 2.5 1.5 1 1 1.5 1.5 1 1 2 1.5 1 1 1 1.5 1.5"/>
<text class="dg" x="47.9" y="185.7" textLength="41.7" lengthAdjust="spacingAndGlyphs">0 0 0 0 0 0</text>
<text class="of" x="52.2" y="203.7" textLength="35" lengthAdjust="spacingAndGlyphs">1 of 2</text>
<rect x="89" y="159" width="1.6" height="58.6" fill="#111"/><rect x="89" y="188.6" width="204" height="1.6" fill="#111"/><rect x="5" y="216.8" width="288" height="1.8" fill="#111"/>
<text class="p n" x="189.7" y="171.7" style="font-size:10.5px" textLength="47" lengthAdjust="spacingAndGlyphs">Jane Doe</text>
<text class="p n" x="190" y="183.3" style="font-size:8.5px" textLength="140.7" lengthAdjust="spacingAndGlyphs">Good luck at your first year of college!</text>
<text class="p st" x="96" y="201" style="font-size:7px" textLength="193" lengthAdjust="spacingAndGlyphs">Application surface should be dry, and free of dirt or oil.</text>
<text class="p st" x="96" y="208.7" style="font-size:7px" textLength="150" lengthAdjust="spacingAndGlyphs">Apply labels to almost any smooth surface.</text>
<text class="p id st" x="13" y="264" textLength="53" lengthAdjust="spacingAndGlyphs">ID</text>
<text class="p n st" x="68" y="244.3" style="font-size:21px;fill:#1a1a1a" textLength="30" lengthAdjust="spacingAndGlyphs">my</text>
<text class="p n st" x="68" y="264.3" style="font-size:25px;fill:#1a1a1a" textLength="56.7" lengthAdjust="spacingAndGlyphs">Stuff</text>
<text class="p n st" x="126" y="249" style="font-size:6px">®</text>
<text class="p pr st" x="13" y="274.3" textLength="111.7" lengthAdjust="spacingAndGlyphs">a product of MaverickLabel.com</text>
<text class="p n" x="211" y="238.3" style="font-size:10px;fill:#222" textLength="79.7" lengthAdjust="spacingAndGlyphs">Get more labels @</text>
<text class="p" x="211" y="252.7" style="font-size:12px" textLength="133" lengthAdjust="spacingAndGlyphs">https://IDmyStuff.com/</text>
<rect x="162" y="260" width="11" height="10" fill="#111"/><path d="M164 268l3-5 2 2 2-3v2l-2 3-2-1-2 3z" fill="#fff"/>
<text class="p n st" x="175.7" y="267.3" style="font-size:5.5px;font-style:italic;fill:#222" textLength="80.7" lengthAdjust="spacingAndGlyphs">A Division of MaverickLabel.com</text>
</svg></div>

</body></html>
